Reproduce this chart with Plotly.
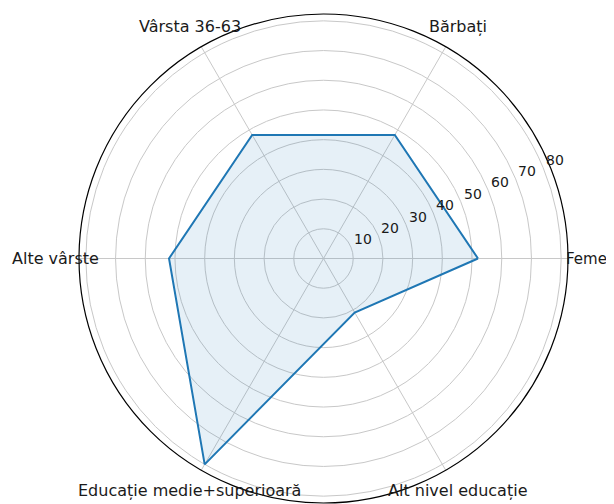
import math
import plotly.graph_objects as go

categories = ["Femei", "Bărbați", "Vârsta 36-63", "Alte vârste",
              "Educație medie+superioară", "Alt nivel educație"]
values = [52, 48, 48, 52, 80, 21]
radial_ticks = [10, 20, 30, 40, 50, 60, 70, 80]

theta = categories + categories[:1]
r = values + values[:1]

fig = go.Figure()
fig.add_trace(go.Scatterpolar(
    r=r, theta=theta, mode="lines", fill="toself",
    line=dict(color="#1f77b4", width=2),
    fillcolor="rgba(31,119,180,0.11)",
    showlegend=False, hoverinfo="skip",
))

W, H = 614, 504
PAGE_OFF = 8                      # default body margin of the html page
cx, cy, R = 323.5 - PAGE_OFF, 258.5 - PAGE_OFF, 244.5
RMAX = 82.3
px_per_unit = R / RMAX
TEXT = "#1a1a1a"


def paper(x, y):
    return x / W, 1 - y / H


annotations = []
# category labels, centred just outside the outer circle
n = len(categories)
for i, cat in enumerate(categories):
    a = math.radians(360 * i / n)
    if i == 0:
        # keep the right-hand label inside the visible page
        x, y = paper(613 - PAGE_OFF, cy)
        annotations.append(dict(x=x, y=y, xref="paper", yref="paper", text=cat,
                                showarrow=False, xanchor="right", yanchor="middle",
                                font=dict(size=15, color=TEXT)))
        continue
    x, y = paper(cx + 268 * math.cos(a), cy - 268 * math.sin(a))
    annotations.append(dict(x=x, y=y, xref="paper", yref="paper", text=cat,
                            showarrow=False, xanchor="center", yanchor="middle",
                            font=dict(size=16, color=TEXT)))
# radial tick labels along 22.5 degrees
ra = math.radians(22.5)
for v in radial_ticks:
    d = v * px_per_unit
    x, y = paper(cx + d * math.cos(ra) + 11.8, cy - d * math.sin(ra) - 7.8)
    annotations.append(dict(x=x, y=y, xref="paper", yref="paper", text=str(v),
                            showarrow=False, xanchor="center", yanchor="middle",
                            font=dict(size=14, color=TEXT)))

fig.update_layout(
    width=W, height=H,
    margin=dict(l=0, r=0, t=0, b=0),
    paper_bgcolor="white",
    font=dict(family="DejaVu Sans", size=14, color=TEXT),
    annotations=annotations,
    polar=dict(
        domain=dict(x=[(cx - R) / W, (cx + R) / W],
                    y=[1 - (cy + R) / H, 1 - (cy - R) / H]),
        bgcolor="white",
        angularaxis=dict(
            rotation=0, direction="counterclockwise",
            showline=True, linecolor="black", linewidth=1.2,
            gridcolor="#c8c8c8", gridwidth=1, ticks="",
            showticklabels=False,
        ),
        radialaxis=dict(
            range=[0, RMAX], angle=22.5,
            tickvals=radial_ticks, showticklabels=False,
            showline=False, ticks="", gridcolor="#c8c8c8", gridwidth=1,
        ),
    ),
)
fig.write_html("out.html")
